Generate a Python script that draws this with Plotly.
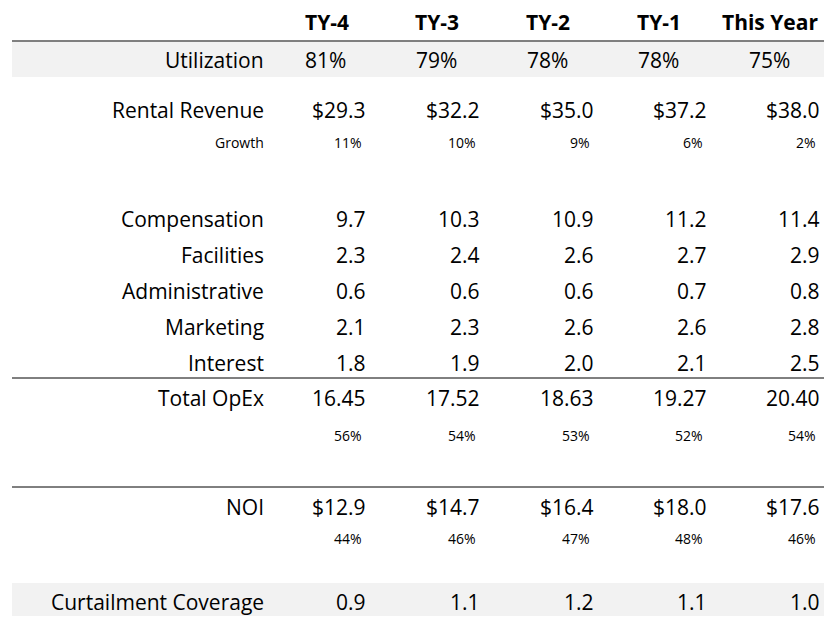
import plotly.graph_objects as go

years = ["TY-4", "TY-3", "TY-2", "TY-1", "This Year"]
utilization = ["81%", "79%", "78%", "78%", "75%"]
rental_revenue = [29.3, 32.2, 35.0, 37.2, 38.0]
growth = ["11%", "10%", "9%", "6%", "2%"]
opex_labels = ["Compensation", "Facilities", "Administrative", "Marketing", "Interest"]
compensation = [9.7, 10.3, 10.9, 11.2, 11.4]
facilities = [2.3, 2.4, 2.6, 2.7, 2.9]
administrative = [0.6, 0.6, 0.6, 0.7, 0.8]
marketing = [2.1, 2.3, 2.6, 2.6, 2.8]
interest = [1.8, 1.9, 2.0, 2.1, 2.5]
total_opex = [16.45, 17.52, 18.63, 19.27, 20.40]
opex_pct = ["56%", "54%", "53%", "52%", "54%"]
noi = [12.9, 14.7, 16.4, 18.0, 17.6]
noi_pct = ["44%", "46%", "47%", "48%", "46%"]
curtailment = [0.9, 1.1, 1.2, 1.1, 1.0]

W, H = 816, 608
OFF = 8
FONT = "Open Sans"
BIG, SMALL = 21, 14
label_x = 266
col_right = [368, 482, 596, 709, 822]
col_left = [303, 414, 525, 636, 747]
col_center = [327, 437, 548, 659, 770]

ann = []
def t(x, y, s, anchor="right", size=BIG, bold=False):
    ann.append(dict(x=x, y=y, text=f"<b>{s}</b>" if bold else s, showarrow=False,
                    xanchor=anchor, yanchor="middle", xref="x", yref="y",
                    font=dict(family=FONT, size=size, color="black")))

for i, yr in enumerate(years):
    t(col_center[i], 22, yr, "center", BIG, True)

t(label_x, 60, "Utilization")
for i, v in enumerate(utilization):
    t(col_left[i], 60, v, "left")

t(label_x, 110, "Rental Revenue")
t(label_x, 142, "Growth", size=SMALL)
for i in range(5):
    t(col_right[i], 110, f"${rental_revenue[i]:.1f}")
    t(col_right[i] - 4, 142, growth[i], size=SMALL)

rows = [compensation, facilities, administrative, marketing, interest]
for r, (lab, vals) in enumerate(zip(opex_labels, rows)):
    y = 219 + 36 * r
    t(label_x, y, lab)
    for i, v in enumerate(vals):
        t(col_right[i], y, f"{v:.1f}")

t(label_x, 398, "Total OpEx")
for i in range(5):
    t(col_right[i], 398, f"{total_opex[i]:.2f}")
    t(col_right[i] - 4, 435, opex_pct[i], size=SMALL)

t(label_x, 507, "NOI")
for i in range(5):
    t(col_right[i], 507, f"${noi[i]:.1f}")
    t(col_right[i] - 4, 538, noi_pct[i], size=SMALL)

t(label_x, 602, "Curtailment Coverage")
for i in range(5):
    t(col_right[i], 602, f"{curtailment[i]:.1f}")

shapes = [
    dict(type="rect", x0=12, x1=832, y0=42, y1=77, fillcolor="#f2f2f2", line_width=0, layer="below"),
    dict(type="rect", x0=12, x1=832, y0=583, y1=620, fillcolor="#f2f2f2", line_width=0, layer="below"),
    dict(type="line", x0=12, x1=832, y0=41, y1=41, line=dict(color="black", width=1)),
    dict(type="line", x0=12, x1=832, y0=378, y1=378, line=dict(color="black", width=1)),
    dict(type="line", x0=12, x1=832, y0=487, y1=487, line=dict(color="black", width=1)),
]

fig = go.Figure()
fig.update_layout(width=W, height=H, margin=dict(l=0, r=0, t=0, b=0),
                  plot_bgcolor="white", paper_bgcolor="white",
                  xaxis=dict(range=[OFF, OFF + W], visible=False, fixedrange=True),
                  yaxis=dict(range=[OFF + H, OFF], visible=False, fixedrange=True),
                  annotations=ann, shapes=shapes, showlegend=False)
fig.write_html("out.html")
